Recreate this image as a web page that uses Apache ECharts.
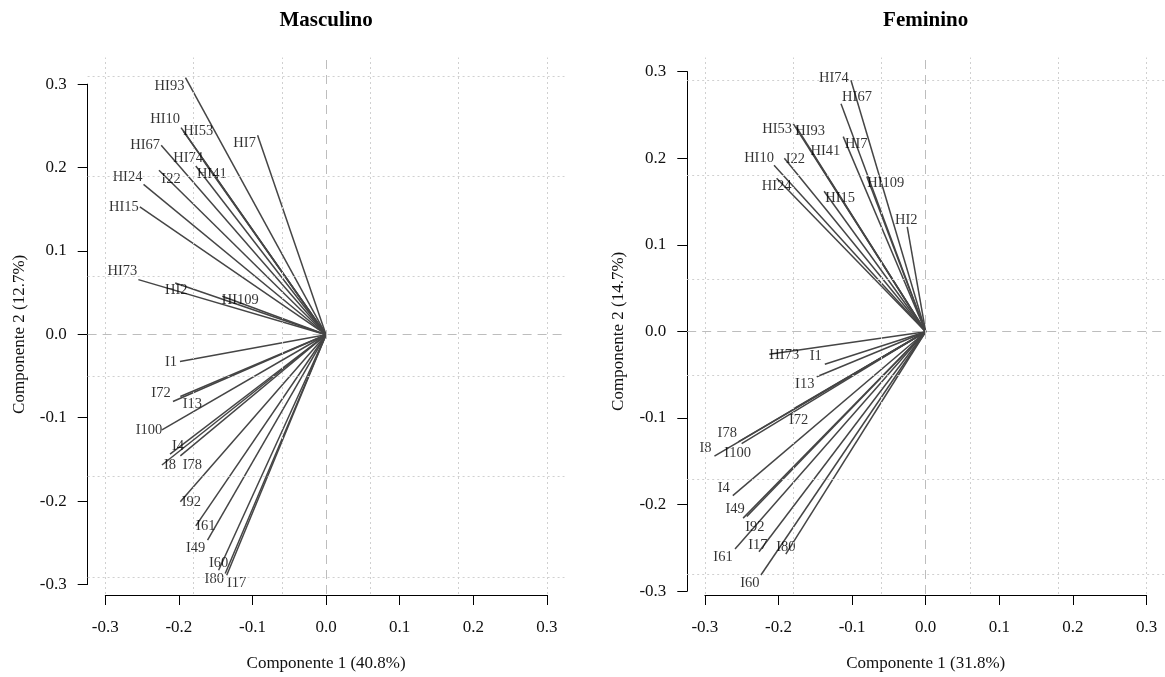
<!DOCTYPE html>
<html>
<head>
<meta charset="utf-8">
<title>Masculino / Feminino</title>
<script src="https://cdn.jsdelivr.net/npm/echarts@6/dist/echarts.min.js"></script>
<style>
  html, body { margin: 0; padding: 0; background: #ffffff; }
  #chart { width: 1165px; height: 677px; }
</style>
</head>
<body>
<div id="chart"></div>
<script>
// Loadings of each item on the first two components, one panel per sex
const varsMasc = ['HI93','HI10','HI53','HI7','HI67','HI74','HI41','HI24','I22','HI15','HI73','HI2','HI109',
                  'I1','I72','I13','I100','I4','I8','I78','I92','I61','I49','I60','I80','I17'];
const pc1Masc = [-0.191,-0.197,-0.194,-0.093,-0.224,-0.167,-0.177,-0.248,-0.227,-0.253,-0.255,-0.205,-0.141,
                 -0.1985,-0.208,-0.198,-0.223,-0.212,-0.223,-0.198,-0.198,-0.177,-0.161,-0.146,-0.137,-0.135];
const pc2Masc = [0.308,0.248,0.244,0.239,0.227,0.209,0.202,0.180,0.197,0.153,0.066,0.062,0.046,
                 -0.032,-0.080,-0.074,-0.114,-0.143,-0.156,-0.145,-0.200,-0.229,-0.246,-0.282,-0.286,-0.288];

const varsFem = ['HI74','HI67','HI53','HI93','HI7','HI41','HI10','I22','HI24','HI109','HI15','HI2','HI73',
                 'I1','I13','I72','I78','I8','I100','I4','I49','I92','I61','I17','I80','I60'];
const pc1Fem = [-0.1015,-0.115,-0.180,-0.176,-0.112,-0.158,-0.206,-0.192,-0.2025,-0.080,-0.138,-0.025,-0.2125,
                -0.137,-0.148,-0.178,-0.2546,-0.287,-0.250,-0.262,-0.248,-0.243,-0.259,-0.2265,-0.190,-0.2238];
const pc2Fem = [0.290,0.263,0.240,0.2365,0.225,0.2115,0.192,0.200,0.177,0.179,0.162,0.121,-0.026,
                -0.0376,-0.052,-0.088,-0.127,-0.1434,-0.129,-0.189,-0.215,-0.213,-0.2506,-0.2537,-0.2564,-0.2806];

const tickLabels = ['-0.3','-0.2','-0.1','0.0','0.1','0.2','0.3'];
const titles = ['Masculino','Feminino'];
const xTitles = ['Componente 1 (40.8%)','Componente 1 (31.8%)'];
const yTitles = ['Componente 2 (12.7%)','Componente 2 (14.7%)'];

// reference grid (dotted) positions in data units
const gridX = [-0.3,-0.18,-0.06,0.06,0.18,0.3];
const gridYMasc = [0.308,0.189,0.070,-0.049,-0.168,-0.287];
const gridYFem = [0.293,0.178,0.064,-0.051,-0.166,-0.280];

// label nudges in pixels (dx, dy) so the names don't overlap
const nudgeMasc = {
  HI93:[-16,9], HI10:[-16,-8], HI53:[15,0], HI7:[-13,8], HI67:[-16,0], HI74:[-15,-2], HI41:[16,8],
  HI24:[-16,-7], I22:[12,9], HI15:[-16,0], HI73:[-16,-8], HI2:[1,7], HI109:[18,4], I1:[-9,1],
  I72:[-12,-8], I13:[12,8], I100:[-13,0], I4:[8,-8], I8:[8,0], I78:[12,9], I92:[11,0], I61:[10,0],
  I49:[-12,8], I60:[0,-7], I80:[-11,6], I17:[10,8]
};
const nudgeFem = {
  HI74:[-17,-2], HI67:[16,-7], HI53:[-16,6], HI93:[14,5], HI7:[13,8], HI41:[16,3], HI10:[-15,-7],
  I22:[11,1], HI24:[0,8], HI109:[19,7], HI15:[16,7], HI2:[-1,-7], HI73:[15,1], I1:[-9,-8],
  I13:[-12,7], I72:[4,12], I78:[-11,-9], I8:[-9,-8], I100:[-4,10], I4:[-9,-7], I49:[-8,-9],
  I92:[8,11], I61:[-12,8], I17:[-1,-7], I80:[0,-7], I60:[-11,8]
};

const FONT = 'Liberation Serif';
const INK = '#454545';

// layout of the two panels: plot region (data grid) and the -0.3..0.3 axis frame
const panels = [
  { plot: {left: 87.6, top: 57.5, width: 476.9, height: 536.5}, xr: [-0.324, 0.324], yr: [-0.3105, 0.332],
    frame: {left: 105.3, top: 84.2, width: 441.6, height: 501}, xOff: 10.5, yOff: 17.6, cx: 326.1 },
  { plot: {left: 687.2, top: 57.5, width: 476.9, height: 536.5}, xr: [-0.324, 0.324], yr: [-0.3025, 0.3163],
    frame: {left: 704.9, top: 71.6, width: 441.6, height: 520.2}, xOff: 3.9, yOff: 17.6, cx: 925.7 }
];

const grids = [], xAxes = [], yAxes = [], series = [], graphics = [];

function tickFmt(v) {
  const i = Math.round((v + 0.3) * 10);
  return tickLabels[i] !== undefined ? tickLabels[i] : '';
}

panels.forEach((p, k) => {
  const names = k === 0 ? varsMasc : varsFem;
  const xs = k === 0 ? pc1Masc : pc1Fem;
  const ys = k === 0 ? pc2Masc : pc2Fem;
  const gy = k === 0 ? gridYMasc : gridYFem;
  const nudge = k === 0 ? nudgeMasc : nudgeFem;

  // plot region with hidden axes
  grids.push(Object.assign({containLabel: false}, p.plot));
  const dataGrid = grids.length - 1;
  xAxes.push({gridIndex: dataGrid, type: 'value', min: p.xr[0], max: p.xr[1], show: false});
  yAxes.push({gridIndex: dataGrid, type: 'value', min: p.yr[0], max: p.yr[1], show: false});
  const dataX = xAxes.length - 1, dataY = yAxes.length - 1;

  // visible axes spanning -0.3..0.3, detached from the plot region
  grids.push(Object.assign({containLabel: false}, p.frame));
  const frameGrid = grids.length - 1;
  const axisCommon = {
    type: 'value', min: -0.3, max: 0.3, interval: 0.1,
    axisLine: {show: true, onZero: false, lineStyle: {color: '#000', width: 1}},
    axisTick: {show: true, length: 10, lineStyle: {color: '#000', width: 1}},
    splitLine: {show: false},
    nameLocation: 'middle',
    nameTextStyle: {fontFamily: FONT, fontSize: 17, color: '#111'}
  };
  xAxes.push(Object.assign({}, axisCommon, {
    gridIndex: frameGrid, position: 'bottom', offset: p.xOff,
    name: xTitles[k], nameGap: 60,
    axisLabel: {formatter: tickFmt, fontFamily: FONT, fontSize: 17, color: '#111', margin: 24}
  }));
  yAxes.push(Object.assign({}, axisCommon, {
    gridIndex: frameGrid, position: 'left', offset: p.yOff,
    name: yTitles[k], nameGap: 60,
    axisLabel: {formatter: tickFmt, fontFamily: FONT, fontSize: 17, color: '#111', margin: 21}
  }));

  // background reference lines
  series.push({
    type: 'line', xAxisIndex: dataX, yAxisIndex: dataY, data: [], silent: true,
    markLine: {
      silent: true, symbol: 'none', animation: false, label: {show: false},
      lineStyle: {color: '#d0d0d0', type: [2, 3], width: 1},
      data: gridX.map(v => ({xAxis: v})).concat(gy.map(v => ({yAxis: v})))
    }
  });
  series.push({
    type: 'line', xAxisIndex: dataX, yAxisIndex: dataY, data: [], silent: true,
    markLine: {
      silent: true, symbol: 'none', animation: false, label: {show: false},
      lineStyle: {color: '#bdbdbd', type: [9, 6], width: 1},
      data: [{xAxis: 0}, {yAxis: 0}]
    }
  });

  // loading vectors from the origin
  series.push({
    type: 'lines', coordinateSystem: 'cartesian2d', xAxisIndex: dataX, yAxisIndex: dataY,
    silent: true, animation: false, z: 3,
    lineStyle: {color: INK, width: 1.5, opacity: 1, curveness: 0},
    data: names.map((n, i) => ({coords: [[0, 0], [xs[i], ys[i]]]}))
  });

  // item names at the tips
  series.push({
    type: 'scatter', xAxisIndex: dataX, yAxisIndex: dataY, silent: true, animation: false, z: 4,
    symbol: 'circle', symbolSize: 1, itemStyle: {color: 'rgba(0,0,0,0)'},
    data: names.map((n, i) => ({
      value: [xs[i], ys[i]], name: n,
      label: {offset: nudge[n] || [0, 0]}
    })),
    label: {
      show: true, position: 'inside', formatter: d => d.name,
      fontFamily: FONT, fontSize: 14.5, color: '#000', align: 'center', verticalAlign: 'middle'
    }
  });

  graphics.push({
    type: 'text', x: p.cx, y: 21, silent: true,
    style: {text: titles[k], font: 'bold 21px "' + FONT + '"', fill: '#000',
            textAlign: 'center', textVerticalAlign: 'middle'}
  });
});

const chart = echarts.init(document.getElementById('chart'), null, {renderer: 'canvas'});
chart.setOption({
  backgroundColor: '#ffffff',
  animation: false,
  grid: grids,
  xAxis: xAxes,
  yAxis: yAxes,
  series: series,
  graphic: graphics
});
</script>
</body>
</html>
